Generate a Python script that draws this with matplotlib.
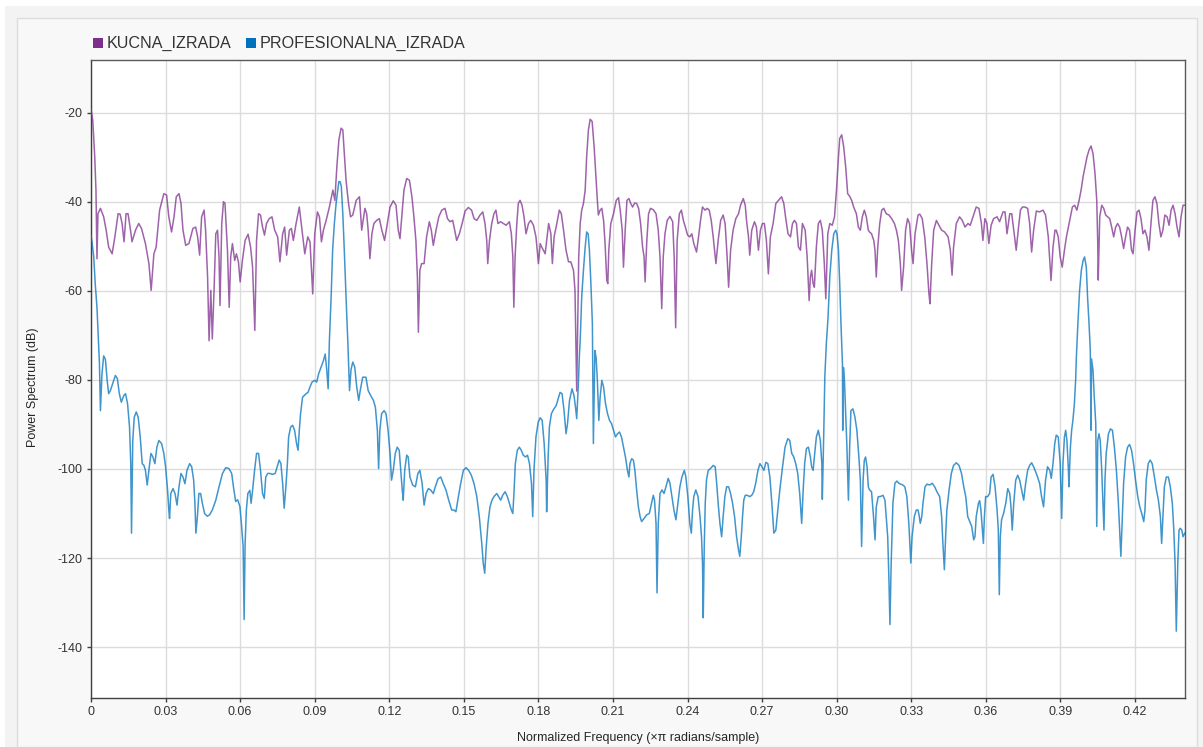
import matplotlib.pyplot as plt
from matplotlib.patches import Rectangle

plt.rcParams['font.family'] = ['Liberation Sans', 'DejaVu Sans']
plt.rcParams['axes.unicode_minus'] = False

# Welch spectrum of the home-made build (normalized frequency, dB)
kucna_f = [
    0.0000, 0.0007, 0.0015, 0.0020, 0.0024, 0.0028, 0.0038, 0.0051, 0.0061, 0.0071,
    0.0085, 0.0096, 0.0109, 0.0117, 0.0125, 0.0133, 0.0141, 0.0149, 0.0159, 0.0165,
    0.0179, 0.0192, 0.0203, 0.0219, 0.0233, 0.0242, 0.0253, 0.0262, 0.0276, 0.0293,
    0.0304, 0.0313, 0.0324, 0.0334, 0.0343, 0.0354, 0.0362, 0.0370, 0.0381, 0.0394,
    0.0410, 0.0421, 0.0429, 0.0437, 0.0445, 0.0455, 0.0461, 0.0469, 0.0475, 0.0482,
    0.0488, 0.0495, 0.0502, 0.0509, 0.0515, 0.0519, 0.0526, 0.0533, 0.0539, 0.0549,
    0.0556, 0.0562, 0.0569, 0.0578, 0.0585, 0.0593, 0.0600, 0.0609, 0.0620, 0.0632,
    0.0642, 0.0650, 0.0659, 0.0666, 0.0674, 0.0682, 0.0690, 0.0698, 0.0706, 0.0717,
    0.0728, 0.0739, 0.0751, 0.0760, 0.0771, 0.0779, 0.0787, 0.0798, 0.0806, 0.0814,
    0.0825, 0.0838, 0.0849, 0.0860, 0.0872, 0.0881, 0.0892, 0.0900, 0.0911, 0.0919,
    0.0927, 0.0935, 0.0946, 0.0959, 0.0973, 0.0981, 0.0989, 0.0997, 0.1006, 0.1013,
    0.1020, 0.1026, 0.1036, 0.1044, 0.1053, 0.1067, 0.1080, 0.1089, 0.1102, 0.1109,
    0.1115, 0.1122, 0.1130, 0.1138, 0.1149, 0.1160, 0.1170, 0.1181, 0.1192, 0.1203,
    0.1216, 0.1227, 0.1236, 0.1243, 0.1250, 0.1259, 0.1270, 0.1281, 0.1291, 0.1299,
    0.1307, 0.1313, 0.1317, 0.1323, 0.1330, 0.1340, 0.1350, 0.1361, 0.1369, 0.1377,
    0.1388, 0.1399, 0.1411, 0.1424, 0.1434, 0.1444, 0.1455, 0.1466, 0.1471, 0.1482,
    0.1493, 0.1505, 0.1518, 0.1531, 0.1541, 0.1552, 0.1565, 0.1576, 0.1585, 0.1592,
    0.1596, 0.1603, 0.1612, 0.1621, 0.1629, 0.1637, 0.1648, 0.1659, 0.1670, 0.1683,
    0.1691, 0.1697, 0.1701, 0.1706, 0.1713, 0.1719, 0.1726, 0.1734, 0.1742, 0.1750,
    0.1760, 0.1769, 0.1780, 0.1790, 0.1800, 0.1807, 0.1813, 0.1820, 0.1827, 0.1833,
    0.1841, 0.1850, 0.1856, 0.1863, 0.1874, 0.1884, 0.1892, 0.1901, 0.1911, 0.1921,
    0.1930, 0.1941, 0.1947, 0.1954, 0.1958, 0.1962, 0.1968, 0.1974, 0.1981, 0.1988,
    0.1994, 0.2001, 0.2008, 0.2016, 0.2024, 0.2032, 0.2037, 0.2041, 0.2048, 0.2055,
    0.2062, 0.2068, 0.2075, 0.2079, 0.2083, 0.2091, 0.2102, 0.2113, 0.2122, 0.2129,
    0.2137, 0.2142, 0.2149, 0.2156, 0.2164, 0.2171, 0.2179, 0.2187, 0.2195, 0.2203,
    0.2211, 0.2219, 0.2225, 0.2229, 0.2236, 0.2243, 0.2251, 0.2262, 0.2273, 0.2282,
    0.2289, 0.2296, 0.2302, 0.2309, 0.2318, 0.2329, 0.2340, 0.2346, 0.2352, 0.2358,
    0.2367, 0.2375, 0.2383, 0.2391, 0.2400, 0.2409, 0.2417, 0.2425, 0.2436, 0.2444,
    0.2452, 0.2460, 0.2470, 0.2479, 0.2487, 0.2495, 0.2503, 0.2514, 0.2523, 0.2533,
    0.2543, 0.2551, 0.2559, 0.2565, 0.2573, 0.2583, 0.2594, 0.2605, 0.2613, 0.2624,
    0.2632, 0.2637, 0.2645, 0.2650, 0.2658, 0.2669, 0.2677, 0.2685, 0.2693, 0.2701,
    0.2709, 0.2717, 0.2725, 0.2733, 0.2744, 0.2755, 0.2766, 0.2778, 0.2787, 0.2795,
    0.2804, 0.2814, 0.2822, 0.2830, 0.2838, 0.2846, 0.2854, 0.2862, 0.2873, 0.2881,
    0.2889, 0.2894, 0.2899, 0.2905, 0.2910, 0.2918, 0.2926, 0.2934, 0.2942, 0.2950,
    0.2956, 0.2964, 0.2972, 0.2982, 0.2991, 0.2999, 0.3007, 0.3012, 0.3020, 0.3028,
    0.3036, 0.3044, 0.3052, 0.3060, 0.3068, 0.3079, 0.3087, 0.3095, 0.3103, 0.3111,
    0.3119, 0.3127, 0.3132, 0.3140, 0.3149, 0.3154, 0.3159, 0.3165, 0.3173, 0.3181,
    0.3189, 0.3199, 0.3210, 0.3221, 0.3232, 0.3240, 0.3248, 0.3256, 0.3261, 0.3269,
    0.3277, 0.3285, 0.3293, 0.3301, 0.3307, 0.3315, 0.3327, 0.3334, 0.3344, 0.3354,
    0.3363, 0.3371, 0.3375, 0.3382, 0.3390, 0.3401, 0.3411, 0.3422, 0.3434, 0.3448,
    0.3457, 0.3464, 0.3470, 0.3481, 0.3494, 0.3505, 0.3516, 0.3528, 0.3537, 0.3548,
    0.3561, 0.3572, 0.3582, 0.3588, 0.3596, 0.3604, 0.3612, 0.3621, 0.3631, 0.3645,
    0.3655, 0.3669, 0.3677, 0.3685, 0.3696, 0.3704, 0.3712, 0.3722, 0.3730, 0.3739,
    0.3747, 0.3757, 0.3768, 0.3776, 0.3784, 0.3792, 0.3803, 0.3816, 0.3830, 0.3840,
    0.3851, 0.3858, 0.3862, 0.3870, 0.3878, 0.3883, 0.3891, 0.3899, 0.3907, 0.3916,
    0.3924, 0.3932, 0.3940, 0.3948, 0.3957, 0.3966, 0.3975, 0.3983, 0.3991, 0.3999,
    0.4007, 0.4015, 0.4023, 0.4031, 0.4039, 0.4046, 0.4050, 0.4052, 0.4058, 0.4066,
    0.4074, 0.4082, 0.4090, 0.4098, 0.4106, 0.4114, 0.4122, 0.4130, 0.4138, 0.4146,
    0.4154, 0.4162, 0.4170, 0.4178, 0.4186, 0.4192, 0.4200, 0.4208, 0.4216, 0.4224,
    0.4232, 0.4240, 0.4248, 0.4256, 0.4264, 0.4272, 0.4280, 0.4288, 0.4296, 0.4304,
    0.4312, 0.4320, 0.4329, 0.4337, 0.4345, 0.4353, 0.4361, 0.4369, 0.4377, 0.4385,
    0.4393, 0.4400,
]
kucna_db = [
    -19.2, -21.7, -29.9, -37.4, -52.8, -42.7, -41.5, -43.4, -46.4, -50.2,
    -51.7, -47.9, -42.7, -42.8, -44.9, -49.0, -42.7, -42.7, -46.4, -49.0,
    -46.4, -44.9, -46.0, -49.4, -53.9, -59.9, -51.7, -50.2, -41.9, -38.2,
    -38.5, -43.4, -46.8, -43.4, -38.9, -38.2, -40.4, -46.4, -49.8, -49.4,
    -46.0, -45.7, -47.9, -52.0, -43.4, -41.9, -46.4, -56.9, -71.2, -59.9,
    -70.8, -59.9, -47.2, -46.4, -52.4, -63.3, -44.9, -40.0, -40.4, -50.9,
    -63.7, -52.4, -49.4, -53.2, -51.7, -53.5, -58.0, -53.2, -48.7, -47.3,
    -50.2, -54.7, -68.9, -48.7, -42.7, -43.0, -45.7, -47.5, -44.9, -43.8,
    -43.4, -46.4, -47.9, -53.5, -47.2, -45.7, -52.0, -46.4, -46.0, -48.7,
    -44.9, -41.2, -46.4, -51.7, -47.9, -49.0, -60.7, -47.2, -42.3, -43.4,
    -49.0, -46.4, -44.2, -41.2, -37.4, -39.7, -32.2, -26.2, -23.5, -23.9,
    -29.9, -35.2, -40.4, -43.4, -43.0, -39.7, -38.9, -46.4, -41.5, -42.7,
    -46.4, -52.8, -47.2, -44.9, -44.2, -43.8, -46.4, -48.7, -44.9, -41.2,
    -39.8, -40.8, -46.4, -48.3, -43.4, -37.4, -34.8, -35.2, -38.9, -43.4,
    -48.7, -56.9, -69.3, -55.4, -53.9, -53.9, -47.9, -44.5, -46.4, -49.8,
    -46.4, -43.4, -41.9, -41.5, -43.8, -44.5, -44.2, -47.2, -48.7, -47.2,
    -44.9, -42.1, -41.3, -41.9, -43.8, -44.2, -43.0, -42.3, -44.9, -48.7,
    -53.9, -48.7, -44.9, -42.7, -41.9, -44.9, -44.5, -44.9, -45.3, -44.5,
    -47.2, -52.4, -63.7, -52.4, -44.9, -40.4, -39.7, -40.8, -43.4, -47.2,
    -44.9, -44.2, -45.3, -47.9, -53.9, -49.4, -50.2, -50.9, -51.7, -48.7,
    -44.9, -47.2, -53.9, -47.9, -44.9, -41.9, -42.7, -46.4, -50.9, -53.5,
    -53.5, -55.4, -59.9, -82.5, -67.4, -52.4, -44.9, -41.9, -40.4, -37.4,
    -29.9, -23.9, -21.5, -22.0, -27.7, -35.2, -39.7, -43.0, -41.9, -41.5,
    -44.2, -49.4, -57.7, -58.4, -50.9, -44.9, -42.7, -39.7, -39.1, -41.9,
    -46.4, -54.7, -46.4, -39.7, -39.3, -40.4, -41.2, -40.3, -40.4, -41.5,
    -44.9, -50.2, -52.4, -58.0, -48.7, -42.7, -41.5, -41.8, -42.7, -46.4,
    -52.4, -64.0, -52.4, -47.2, -44.2, -43.3, -44.5, -52.4, -68.3, -48.7,
    -42.7, -41.9, -44.2, -45.7, -47.5, -47.9, -47.2, -49.4, -51.3, -47.9,
    -44.2, -41.2, -41.9, -41.5, -41.9, -44.2, -47.9, -53.9, -48.7, -44.2,
    -43.0, -44.9, -52.4, -59.2, -50.9, -46.4, -43.8, -42.7, -40.8, -39.3,
    -40.8, -44.2, -47.9, -52.0, -46.4, -44.5, -45.7, -50.9, -46.4, -44.9,
    -44.9, -48.7, -56.2, -47.9, -44.9, -40.4, -39.7, -38.9, -40.4, -43.8,
    -47.2, -47.9, -44.9, -44.2, -44.9, -50.2, -50.9, -44.9, -46.4, -52.4,
    -62.2, -56.9, -55.4, -58.4, -59.2, -50.2, -44.9, -44.2, -46.4, -53.9,
    -61.8, -47.2, -44.9, -45.3, -43.4, -37.4, -29.9, -25.8, -25.0, -27.7,
    -32.2, -38.2, -38.8, -39.7, -41.2, -42.7, -45.7, -46.4, -43.4, -41.9,
    -43.4, -46.4, -46.8, -47.2, -48.7, -50.9, -56.9, -50.2, -44.9, -41.9,
    -41.5, -42.7, -43.0, -43.8, -44.9, -46.4, -48.7, -53.9, -59.9, -54.7,
    -46.4, -43.8, -44.9, -50.9, -53.9, -47.2, -43.0, -42.8, -43.8, -47.9,
    -53.9, -60.7, -62.9, -53.9, -46.4, -44.2, -45.3, -46.4, -46.8, -47.9,
    -50.9, -56.5, -50.2, -44.9, -43.4, -44.2, -45.7, -44.9, -45.3, -43.4,
    -41.2, -41.5, -44.9, -48.7, -43.8, -44.9, -49.4, -45.3, -43.8, -43.4,
    -44.5, -42.3, -42.3, -47.2, -42.7, -42.7, -46.4, -50.9, -46.4, -41.9,
    -41.2, -41.2, -41.5, -44.9, -51.3, -46.4, -42.1, -42.3, -41.9, -43.0,
    -47.9, -53.9, -57.7, -50.2, -46.4, -46.4, -47.9, -52.4, -54.7, -50.9,
    -47.9, -45.7, -43.4, -41.2, -40.8, -41.9, -39.7, -37.4, -34.4, -32.2,
    -29.9, -28.4, -27.5, -29.2, -33.7, -39.7, -49.4, -57.6, -43.4, -40.8,
    -41.5, -43.0, -43.4, -43.8, -45.7, -47.9, -45.7, -44.9, -45.7, -47.9,
    -50.5, -47.9, -45.7, -46.4, -50.9, -51.7, -46.4, -42.3, -41.9, -43.8,
    -47.2, -46.4, -47.9, -50.9, -44.9, -39.7, -38.9, -40.4, -44.9, -47.9,
    -46.4, -43.0, -43.4, -45.3, -41.9, -40.8, -42.7, -45.7, -47.9, -43.4,
    -40.8, -40.8,
]

# Welch spectrum of the professional build
prof_f = [
    0.0000, 0.0004, 0.0011, 0.0017, 0.0024, 0.0028, 0.0034, 0.0038, 0.0044, 0.0051,
    0.0058, 0.0065, 0.0071, 0.0078, 0.0087, 0.0098, 0.0106, 0.0114, 0.0122, 0.0132,
    0.0139, 0.0147, 0.0155, 0.0160, 0.0163, 0.0168, 0.0174, 0.0182, 0.0190, 0.0198,
    0.0206, 0.0213, 0.0219, 0.0226, 0.0233, 0.0241, 0.0249, 0.0257, 0.0265, 0.0273,
    0.0284, 0.0293, 0.0300, 0.0308, 0.0313, 0.0316, 0.0321, 0.0330, 0.0338, 0.0346,
    0.0354, 0.0362, 0.0370, 0.0378, 0.0386, 0.0397, 0.0405, 0.0413, 0.0418, 0.0422,
    0.0428, 0.0434, 0.0441, 0.0448, 0.0457, 0.0468, 0.0477, 0.0488, 0.0502, 0.0515,
    0.0529, 0.0542, 0.0555, 0.0566, 0.0573, 0.0582, 0.0590, 0.0599, 0.0605, 0.0612,
    0.0616, 0.0620, 0.0625, 0.0631, 0.0639, 0.0644, 0.0650, 0.0658, 0.0666, 0.0674,
    0.0682, 0.0690, 0.0697, 0.0703, 0.0711, 0.0720, 0.0730, 0.0741, 0.0749, 0.0757,
    0.0764, 0.0771, 0.0777, 0.0784, 0.0790, 0.0795, 0.0803, 0.0811, 0.0819, 0.0827,
    0.0833, 0.0838, 0.0843, 0.0851, 0.0858, 0.0865, 0.0873, 0.0881, 0.0889, 0.0900,
    0.0908, 0.0916, 0.0925, 0.0935, 0.0942, 0.0948, 0.0954, 0.0959, 0.0966, 0.0972,
    0.0979, 0.0986, 0.0993, 0.0997, 0.1002, 0.1007, 0.1013, 0.1020, 0.1026, 0.1033,
    0.1040, 0.1046, 0.1053, 0.1061, 0.1069, 0.1077, 0.1083, 0.1093, 0.1106, 0.1115,
    0.1125, 0.1136, 0.1144, 0.1152, 0.1157, 0.1162, 0.1169, 0.1179, 0.1187, 0.1195,
    0.1203, 0.1209, 0.1216, 0.1224, 0.1232, 0.1240, 0.1247, 0.1252, 0.1256, 0.1262,
    0.1270, 0.1276, 0.1283, 0.1294, 0.1305, 0.1315, 0.1323, 0.1332, 0.1340, 0.1348,
    0.1357, 0.1366, 0.1377, 0.1385, 0.1396, 0.1407, 0.1417, 0.1428, 0.1439, 0.1451,
    0.1460, 0.1468, 0.1478, 0.1487, 0.1498, 0.1509, 0.1519, 0.1530, 0.1541, 0.1552,
    0.1562, 0.1572, 0.1578, 0.1584, 0.1589, 0.1597, 0.1605, 0.1613, 0.1621, 0.1632,
    0.1640, 0.1648, 0.1656, 0.1666, 0.1675, 0.1683, 0.1691, 0.1697, 0.1702, 0.1707,
    0.1715, 0.1723, 0.1731, 0.1739, 0.1748, 0.1756, 0.1764, 0.1772, 0.1777, 0.1782,
    0.1790, 0.1799, 0.1807, 0.1815, 0.1823, 0.1831, 0.1833, 0.1839, 0.1844, 0.1852,
    0.1860, 0.1871, 0.1879, 0.1887, 0.1895, 0.1903, 0.1911, 0.1917, 0.1925, 0.1935,
    0.1943, 0.1949, 0.1954, 0.1960, 0.1965, 0.1968, 0.1974, 0.1981, 0.1988, 0.1994,
    0.2000, 0.2005, 0.2011, 0.2017, 0.2021, 0.2027, 0.2032, 0.2037, 0.2043, 0.2048,
    0.2055, 0.2062, 0.2070, 0.2078, 0.2086, 0.2094, 0.2102, 0.2110, 0.2118, 0.2126,
    0.2134, 0.2142, 0.2150, 0.2158, 0.2164, 0.2168, 0.2175, 0.2182, 0.2188, 0.2195,
    0.2202, 0.2209, 0.2215, 0.2225, 0.2235, 0.2246, 0.2255, 0.2262, 0.2267, 0.2273,
    0.2277, 0.2282, 0.2289, 0.2297, 0.2305, 0.2313, 0.2322, 0.2329, 0.2337, 0.2345,
    0.2353, 0.2361, 0.2369, 0.2377, 0.2387, 0.2393, 0.2401, 0.2409, 0.2415, 0.2420,
    0.2425, 0.2433, 0.2442, 0.2450, 0.2456, 0.2460, 0.2463, 0.2467, 0.2471, 0.2476,
    0.2483, 0.2492, 0.2503, 0.2511, 0.2516, 0.2523, 0.2530, 0.2537, 0.2543, 0.2550,
    0.2557, 0.2565, 0.2573, 0.2581, 0.2589, 0.2597, 0.2605, 0.2610, 0.2616, 0.2621,
    0.2626, 0.2632, 0.2640, 0.2650, 0.2658, 0.2666, 0.2674, 0.2683, 0.2691, 0.2699,
    0.2707, 0.2715, 0.2723, 0.2731, 0.2739, 0.2747, 0.2755, 0.2763, 0.2771, 0.2782,
    0.2792, 0.2803, 0.2811, 0.2819, 0.2827, 0.2835, 0.2843, 0.2851, 0.2859, 0.2865,
    0.2871, 0.2878, 0.2886, 0.2894, 0.2899, 0.2905, 0.2910, 0.2918, 0.2926, 0.2934,
    0.2940, 0.2942, 0.2948, 0.2952, 0.2958, 0.2965, 0.2972, 0.2980, 0.2988, 0.2996,
    0.3001, 0.3007, 0.3012, 0.3017, 0.3023, 0.3024, 0.3027, 0.3031, 0.3036, 0.3041,
    0.3047, 0.3052, 0.3057, 0.3065, 0.3073, 0.3081, 0.3089, 0.3095, 0.3100, 0.3106,
    0.3111, 0.3116, 0.3122, 0.3127, 0.3132, 0.3140, 0.3148, 0.3154, 0.3159, 0.3167,
    0.3175, 0.3186, 0.3194, 0.3199, 0.3205, 0.3210, 0.3214, 0.3219, 0.3226, 0.3234,
    0.3242, 0.3250, 0.3258, 0.3266, 0.3274, 0.3282, 0.3290, 0.3298, 0.3303, 0.3312,
    0.3320, 0.3327, 0.3331, 0.3336, 0.3342, 0.3347, 0.3355, 0.3363, 0.3374, 0.3384,
    0.3394, 0.3403, 0.3414, 0.3422, 0.3427, 0.3433, 0.3438, 0.3443, 0.3452, 0.3461,
    0.3470, 0.3481, 0.3492, 0.3502, 0.3511, 0.3519, 0.3527, 0.3535, 0.3543, 0.3551,
    0.3556, 0.3561, 0.3570, 0.3575, 0.3580, 0.3586, 0.3590, 0.3594, 0.3599, 0.3607,
    0.3615, 0.3621, 0.3629, 0.3637, 0.3645, 0.3650, 0.3654, 0.3658, 0.3663, 0.3671,
    0.3680, 0.3688, 0.3696, 0.3701, 0.3706, 0.3712, 0.3720, 0.3728, 0.3736, 0.3744,
    0.3752, 0.3760, 0.3768, 0.3776, 0.3784, 0.3792, 0.3800, 0.3808, 0.3816, 0.3824,
    0.3832, 0.3840, 0.3848, 0.3857, 0.3863, 0.3870, 0.3877, 0.3883, 0.3891, 0.3899,
    0.3905, 0.3910, 0.3916, 0.3921, 0.3926, 0.3932, 0.3934, 0.3940, 0.3945, 0.3950,
    0.3956, 0.3961, 0.3964, 0.3970, 0.3977, 0.3984, 0.3991, 0.3997, 0.4004, 0.4009,
    0.4015, 0.4020, 0.4023, 0.4025, 0.4031, 0.4036, 0.4042, 0.4046, 0.4050, 0.4055,
    0.4060, 0.4066, 0.4071, 0.4075, 0.4079, 0.4084, 0.4093, 0.4101, 0.4109, 0.4117,
    0.4125, 0.4133, 0.4138, 0.4143, 0.4149, 0.4154, 0.4162, 0.4170, 0.4178, 0.4186,
    0.4194, 0.4202, 0.4211, 0.4219, 0.4227, 0.4235, 0.4240, 0.4245, 0.4253, 0.4261,
    0.4269, 0.4278, 0.4286, 0.4294, 0.4302, 0.4307, 0.4312, 0.4318, 0.4326, 0.4334,
    0.4342, 0.4350, 0.4356, 0.4361, 0.4366, 0.4372, 0.4377, 0.4382, 0.4388, 0.4393,
    0.4400,
]
prof_db = [
    -47.5, -49.0, -52.4, -58.4, -63.7, -69.0, -76.4, -86.9, -78.7, -74.6,
    -75.4, -80.1, -83.1, -82.4, -80.9, -79.0, -79.7, -83.1, -85.0, -83.5,
    -83.1, -85.3, -90.6, -98.8, -114.4, -93.6, -88.4, -87.2, -88.4, -92.8,
    -98.8, -99.2, -100.3, -103.6, -100.3, -96.5, -97.3, -98.8, -95.1, -93.6,
    -94.3, -96.5, -99.5, -104.7, -109.2, -111.1, -105.5, -104.4, -105.5, -108.1,
    -104.0, -101.0, -101.8, -103.3, -100.3, -98.8, -99.5, -102.5, -107.7, -114.4,
    -110.7, -105.5, -105.5, -107.7, -110.0, -110.6, -110.3, -109.2, -107.0, -104.0,
    -101.0, -99.7, -99.9, -101.0, -104.0, -107.3, -106.9, -108.4, -112.2, -117.4,
    -133.8, -116.7, -109.2, -105.5, -104.8, -107.7, -104.8, -100.3, -96.5, -96.5,
    -100.3, -105.5, -106.6, -101.8, -101.0, -101.0, -101.2, -101.0, -99.5, -98.0,
    -98.8, -103.3, -108.8, -104.0, -98.8, -92.8, -90.6, -90.2, -91.3, -94.3,
    -95.8, -91.3, -87.6, -83.9, -83.5, -83.1, -82.8, -81.6, -80.5, -80.1,
    -80.5, -78.6, -77.2, -75.7, -74.2, -77.5, -82.0, -71.2, -61.4, -50.9,
    -44.9, -40.4, -37.4, -35.5, -35.5, -36.6, -42.7, -52.4, -61.4, -71.2,
    -82.4, -77.7, -76.0, -77.1, -81.6, -84.6, -82.4, -79.4, -79.4, -82.4,
    -83.5, -84.6, -86.1, -91.3, -99.9, -91.3, -87.6, -86.9, -87.6, -91.3,
    -96.5, -102.5, -100.3, -96.5, -95.1, -95.8, -101.0, -104.7, -107.0, -100.3,
    -96.9, -97.3, -101.8, -103.6, -104.0, -101.0, -100.3, -103.2, -108.1, -105.5,
    -104.4, -104.7, -105.5, -104.0, -102.2, -101.8, -103.3, -104.7, -107.0, -109.2,
    -109.2, -109.6, -106.2, -103.3, -100.3, -99.7, -100.3, -101.4, -103.3, -106.2,
    -110.7, -116.7, -121.2, -123.4, -118.2, -112.2, -108.5, -107.0, -106.2, -105.5,
    -106.2, -107.0, -105.9, -105.1, -106.2, -107.7, -109.2, -110.0, -104.8, -98.8,
    -95.8, -95.1, -95.8, -96.9, -97.3, -96.9, -98.8, -103.3, -110.7, -100.3,
    -92.8, -89.5, -88.5, -89.1, -94.3, -102.5, -109.6, -97.3, -90.6, -87.6,
    -86.7, -85.8, -84.3, -82.8, -83.1, -86.9, -92.1, -89.8, -84.6, -82.0,
    -83.5, -86.1, -88.7, -81.6, -74.2, -71.2, -61.4, -55.4, -50.2, -46.8,
    -47.2, -50.9, -58.4, -67.4, -94.3, -73.4, -75.0, -80.1, -89.1, -84.0,
    -80.1, -81.6, -85.4, -87.6, -89.1, -89.8, -91.3, -92.8, -92.1, -91.7,
    -92.8, -95.1, -97.3, -100.3, -101.8, -98.8, -97.7, -98.0, -100.3, -104.7,
    -108.5, -110.7, -111.8, -111.1, -110.3, -110.0, -107.7, -105.9, -107.0, -112.2,
    -127.8, -112.2, -105.5, -104.7, -105.5, -104.0, -102.1, -103.2, -106.2, -109.2,
    -111.4, -107.7, -104.0, -101.8, -100.3, -101.8, -106.2, -112.2, -114.4, -109.2,
    -106.2, -104.7, -106.2, -110.7, -115.2, -121.1, -133.4, -117.4, -107.7, -102.5,
    -100.3, -99.9, -99.2, -99.5, -102.5, -107.7, -112.2, -115.2, -110.7, -106.2,
    -104.0, -104.0, -105.5, -107.7, -110.7, -115.2, -118.2, -119.6, -115.2, -110.7,
    -107.0, -105.9, -105.9, -106.2, -105.9, -105.1, -103.2, -100.3, -98.8, -99.5,
    -100.3, -98.5, -98.8, -101.8, -107.7, -114.4, -113.7, -109.2, -104.7, -99.5,
    -95.1, -93.2, -93.6, -96.5, -97.3, -98.8, -101.0, -105.5, -112.2, -104.7,
    -98.8, -95.4, -95.1, -97.3, -99.5, -100.3, -97.3, -92.8, -91.3, -93.6,
    -98.8, -106.8, -91.3, -79.4, -72.0, -66.0, -56.9, -50.9, -47.2, -46.4,
    -47.2, -50.9, -58.4, -67.4, -76.4, -91.3, -77.2, -80.1, -87.6, -95.1,
    -107.0, -95.1, -86.9, -86.5, -88.3, -91.3, -97.3, -102.5, -117.4, -102.5,
    -98.0, -97.3, -99.5, -104.0, -104.7, -105.1, -110.7, -115.9, -108.5, -106.2,
    -106.2, -105.9, -107.0, -110.7, -115.2, -124.9, -134.9, -121.1, -107.7, -103.2,
    -102.7, -103.2, -103.4, -103.6, -104.0, -106.2, -112.2, -121.1, -115.2, -110.7,
    -109.2, -109.2, -110.3, -112.2, -110.7, -107.7, -104.0, -103.4, -103.6, -103.2,
    -104.0, -105.1, -106.2, -110.7, -116.7, -122.6, -115.2, -109.2, -104.7, -101.0,
    -99.2, -98.6, -99.2, -101.0, -104.0, -106.2, -110.7, -111.8, -112.9, -115.9,
    -115.2, -110.7, -107.7, -107.1, -109.2, -113.7, -116.7, -110.7, -106.2, -106.2,
    -105.5, -101.8, -101.2, -104.0, -109.2, -113.7, -128.2, -115.2, -111.4, -110.0,
    -107.7, -104.4, -105.5, -108.5, -113.7, -107.7, -102.5, -101.4, -102.5, -104.7,
    -107.0, -103.2, -100.3, -99.2, -98.6, -99.5, -100.6, -101.8, -103.2, -106.2,
    -108.5, -102.5, -99.5, -100.3, -102.1, -98.8, -94.3, -92.4, -92.8, -98.8,
    -111.1, -98.8, -92.8, -91.3, -93.6, -100.3, -104.0, -95.1, -91.3, -89.1,
    -85.4, -80.1, -74.9, -67.4, -59.9, -55.4, -53.2, -52.4, -54.7, -61.4,
    -67.4, -73.4, -91.3, -75.3, -77.9, -83.9, -89.8, -112.9, -93.6, -92.1,
    -93.6, -100.3, -107.7, -113.7, -102.5, -96.5, -92.1, -91.0, -91.3, -95.1,
    -100.3, -107.7, -113.7, -119.6, -110.7, -103.2, -97.3, -95.1, -94.5, -95.8,
    -98.8, -102.5, -106.2, -108.5, -110.0, -111.8, -109.2, -102.5, -98.8, -98.0,
    -98.8, -101.8, -104.7, -107.0, -110.7, -116.7, -110.7, -104.0, -101.8, -101.8,
    -104.0, -107.7, -113.7, -121.1, -136.4, -121.1, -113.7, -113.3, -113.7, -115.2,
    -114.4,
]

x_ticks = [0, 0.03, 0.06, 0.09, 0.12, 0.15, 0.18, 0.21, 0.24, 0.27, 0.30, 0.33, 0.36, 0.39, 0.42]
x_labels = ['0', '0.03', '0.06', '0.09', '0.12', '0.15', '0.18', '0.21',
            '0.24', '0.27', '0.30', '0.33', '0.36', '0.39', '0.42']
y_ticks = [-140, -120, -100, -80, -60, -40, -20]

purple = '#7E2F8E'
blue = '#0072BD'

W, H = 1203, 747
fig = plt.figure(figsize=(W / 100, H / 100), dpi=100, facecolor='white')

# panel behind the plot
fig.add_artist(Rectangle((5 / W, 0), (W - 5) / W, 1 - 6 / H, transform=fig.transFigure,
                         facecolor='#f3f3f3', edgecolor='none', zorder=0))
fig.add_artist(Rectangle((17 / W, 0), (1197 - 17) / W, 1 - 18 / H, transform=fig.transFigure,
                         facecolor='#f8f8f8', edgecolor='#dddddd', lw=1, zorder=0))

ax = fig.add_axes([91 / W, 1 - 698 / H, (1185 - 91) / W, (698 - 60) / H])
ax.set_facecolor('white')

ax.plot(kucna_f, kucna_db, color=purple, lw=1.1, alpha=0.75, zorder=3)
ax.plot(prof_f, prof_db, color=blue, lw=1.1, alpha=0.75, zorder=3)

ax.set_xlim(0, 0.4401)
ax.set_ylim(-151.4, -8.2)
ax.set_xticks(x_ticks)
ax.set_xticklabels(x_labels)
ax.set_yticks(y_ticks)
ax.grid(True, color='#dcdcdc', lw=1)
ax.set_axisbelow(True)
ax.tick_params(direction='out', length=3, width=1, colors='#404040',
               labelsize=9, labelcolor='#333333', pad=3)
for side in ax.spines:
    ax.spines[side].set_color('#5a5a5a')
    ax.spines[side].set_linewidth(1)
ax.spines['left'].set_color('#404040')
ax.spines['bottom'].set_color('#404040')

fig.text(638 / W, 1 - 738 / H, 'Normalized Frequency (×π radians/sample)',
         ha='center', va='center', fontsize=9, color='#262626')
fig.text(33 / W, 1 - 387 / H, 'Power Spectrum (dB)', rotation=90,
         ha='center', va='center', fontsize=9, color='#262626')

# legend above the axes
fig.add_artist(Rectangle((93 / W, 1 - 48 / H), 10 / W, 10 / H, transform=fig.transFigure,
                         facecolor=purple, edgecolor='none'))
fig.text(107 / W, 1 - 43.5 / H, 'KUCNA_IZRADA', ha='left', va='center',
         fontsize=11.6, color='#333333')
fig.add_artist(Rectangle((246 / W, 1 - 48 / H), 10 / W, 10 / H, transform=fig.transFigure,
                         facecolor=blue, edgecolor='none'))
fig.text(260 / W, 1 - 43.5 / H, 'PROFESIONALNA_IZRADA', ha='left', va='center',
         fontsize=11.6, color='#333333')

fig.savefig('out.png', dpi=100, facecolor=fig.get_facecolor())
